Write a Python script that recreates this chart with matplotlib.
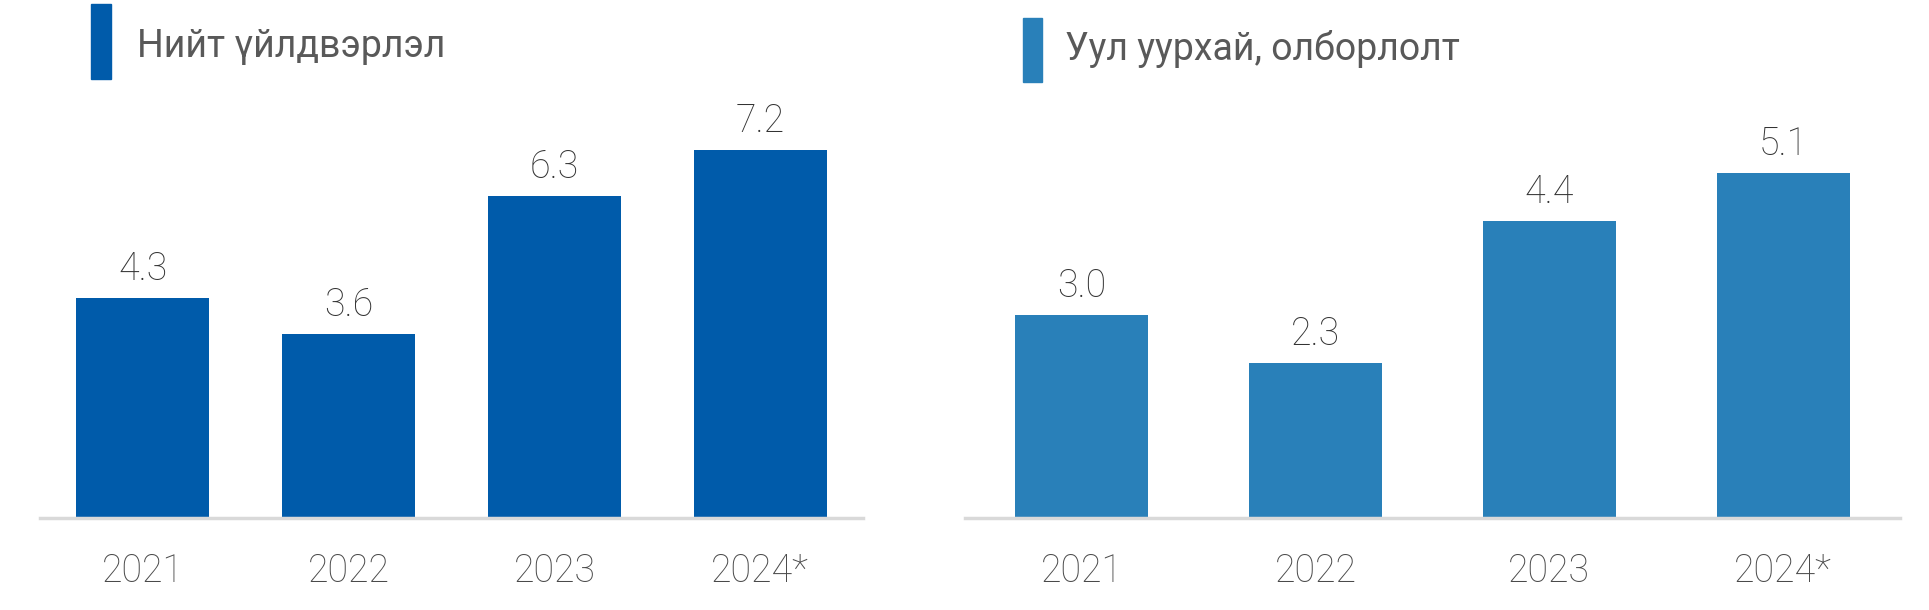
import matplotlib
matplotlib.use("Agg")
import matplotlib.pyplot as plt
from matplotlib.patches import Rectangle

plt.rcParams['font.family'] = ['Roboto', 'DejaVu Sans']

years = ['2021', '2022', '2023', '2024*']
total_vals = [4.3, 3.6, 6.3, 7.2]
mining_vals = [3.0, 2.3, 4.4, 5.1]
titles = ['Нийт үйлдвэрлэл', 'Уул уурхай, олборлолт']
colors = ['#005BAA', '#2980B9']

W, H = 1929, 610
fig = plt.figure(figsize=(W / 100, H / 100), dpi=100)

# axes boxes in pixels: left, right, baseline (from top), pixels per unit, bar width
panels = [
    (40, 863, 518, 51.1, 0.647, total_vals),
    (965, 1900, 518, 67.6, 0.57, mining_vals),
]

for i, (x0, x1, base, ppu, bw, vals) in enumerate(panels):
    ax = fig.add_axes([x0 / W, (H - base) / H, (x1 - x0) / W, base / H])
    ax.bar(range(len(vals)), vals, width=bw, color=colors[i], zorder=2)
    ax.set_xlim(-0.5, len(vals) - 0.5)
    ax.set_ylim(0, base / ppu)
    for s in ['top', 'right', 'left']:
        ax.spines[s].set_visible(False)
    ax.spines['bottom'].set_color('#D9D9D9')
    ax.spines['bottom'].set_linewidth(2.5)
    ax.set_yticks([])
    ax.set_xticks(range(len(vals)))
    ax.set_xticklabels(years, fontsize=27, color='#4A4A4A', fontweight='light')
    ax.tick_params(axis='x', length=0, pad=25)
    for j, v in enumerate(vals):
        ax.annotate(f'{v:.1f}', (j, v), xytext=(0, 10), textcoords='offset pixels',
                    ha='center', va='bottom', fontsize=27, color='#333333',
                    fontweight='light')

# title markers and text
markers = [(91, 4, 20, 75, 137, 57), (1023, 18, 19, 64, 1065, 60)]
for i, (mx, my, mw, mh, tx, ty) in enumerate(markers):
    fig.patches.append(Rectangle((mx / W, (H - my - mh) / H), mw / W, mh / H,
                                 transform=fig.transFigure, color=colors[i]))
    fig.text(tx / W, (H - ty) / H, titles[i], fontsize=27, color='#595959',
             ha='left', va='baseline')

fig.savefig('out.png', dpi=100, facecolor='white')
